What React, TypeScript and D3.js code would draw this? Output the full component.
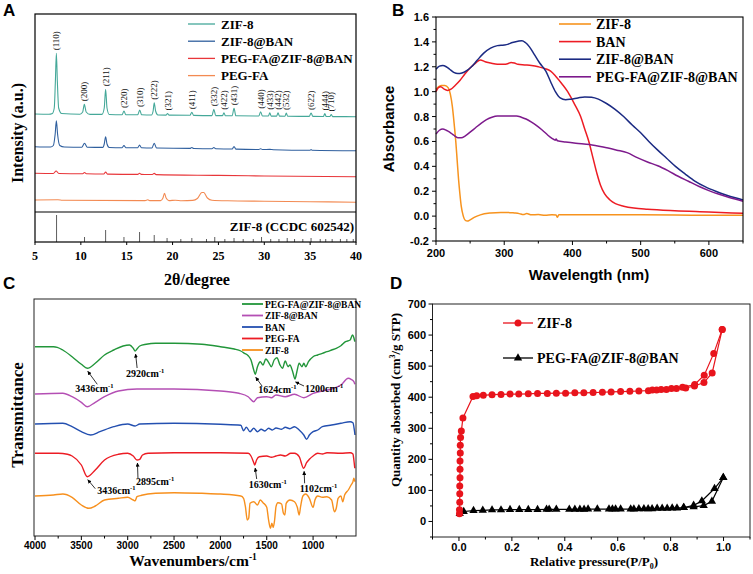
import React from "react";
import * as d3 from "d3";

type P = [number, number];

const SERIF = "'Liberation Serif','Times New Roman',Times,serif";
const SANS = "'Liberation Sans',Arial,Helvetica,sans-serif";

// ================= Panel A : XRD =================
const xrdNames = ["ZIF-8", "ZIF-8@BAN", "PEG-FA@ZIF-8@BAN", "PEG-FA"];
const xrdColors = ["#45a899", "#2f5f9e", "#e8363a", "#f38a52"];
const xrdZif8: P[] = [
  [5, 98], [6.5, 97.8], [6.9, 98.6], [7.1, 104], [7.22, 130], [7.33, 158.7], [7.44, 130], [7.58, 104], [7.9, 98.5],
  [9.9, 97.8], [10.2, 100], [10.38, 107.7], [10.58, 100], [11, 97.6], [12.3, 97.6], [12.55, 104], [12.7, 122.7],
  [12.85, 104], [13.1, 97.5], [14.5, 97.3], [14.7, 101], [14.9, 97.3], [16.2, 97.2], [16.42, 102], [16.62, 97.2],
  [17.7, 97], [17.88, 101], [18.0, 109.3], [18.15, 101], [18.4, 97], [19.3, 96.9], [19.45, 98.5], [19.6, 96.9],
  [21.9, 96.7], [22.1, 99.7], [22.3, 96.6], [24.3, 96.4], [24.5, 102.7], [24.7, 96.4], [25.45, 96.4], [25.6, 99.3],
  [25.75, 96.3], [26.5, 96.3], [26.7, 103.7], [26.9, 96.2], [29.4, 96], [29.6, 100.3], [29.8, 96], [30.45, 96],
  [30.6, 99.3], [30.75, 95.9], [31.35, 95.9], [31.5, 99.3], [31.65, 95.9], [32.25, 95.8], [32.4, 99], [32.55, 95.8],
  [34.9, 95.6], [35.1, 99], [35.3, 95.6], [36.45, 95.5], [36.6, 98.5], [36.75, 95.5], [37.15, 95.5], [37.3, 97.5],
  [37.45, 95.4], [40, 95.3],
];
const xrdZif8Ban: P[] = [
  [5, 65.3], [6.7, 65], [7.0, 66.5], [7.2, 78], [7.33, 91.3], [7.46, 78], [7.7, 66.5], [8.2, 65], [10.1, 64.8],
  [10.4, 68.7], [10.7, 64.8], [12.4, 64.6], [12.55, 68], [12.7, 75.3], [12.85, 68], [13.1, 64.5], [14.5, 64.3],
  [14.7, 66.5], [14.9, 64.3], [16.2, 64.2], [16.4, 67], [16.6, 64.2], [17.75, 64], [18.0, 68.7], [18.25, 64],
  [21.9, 63.6], [22.1, 64.5], [22.3, 63.5], [24.3, 63.3], [24.5, 64.5], [24.7, 63.2], [26.5, 63], [26.7, 65.5],
  [26.9, 62.9], [29.4, 62.5], [29.6, 63.3], [29.8, 62.5], [30.6, 62.6], [31, 62.3], [35.0, 61.8], [35.1, 62.4],
  [35.2, 61.8], [40, 61.3],
];
const xrdPegZifBan: P[] = [
  [5, 38.7], [7.0, 38.5], [7.3, 41], [7.6, 38.5], [10.2, 38.2], [10.4, 39.5], [10.6, 38.2], [12.5, 38], [12.7, 40],
  [12.9, 37.9], [16.2, 37.6], [16.4, 38.8], [16.6, 37.6], [17.8, 37.5], [18.0, 38.6], [18.2, 37.4], [25, 36.6],
  [30, 36], [40, 35.3],
];
const xrdPegFa: P[] = [
  [5, 12], [7.5, 12.2], [8, 11.8], [17, 11.4], [17.3, 12.2], [17.5, 11.4], [18.7, 11.4], [18.95, 14], [19.12, 18.7],
  [19.3, 14], [19.6, 11.4], [20.3, 11.8], [21, 11.3], [22.2, 11.6], [22.7, 13.5], [23.2, 19.5], [23.4, 19.5],
  [23.8, 14], [24.3, 11.8], [26, 11.2], [30, 10.8], [35, 10.3], [40, 9.7],
];
const xrdSeries = [xrdZif8, xrdZif8Ban, xrdPegZifBan, xrdPegFa];
const millerLabels = ["(110)", "(200)", "(211)", "(220)", "(310)", "(222)", "(321)", "(411)", "(332)", "(422)",
  "(431)", "(440)", "(433)", "(442)", "(532)", "(622)", "(444)", "(710)"];
const millerTheta = [7.33, 10.38, 12.7, 14.7, 16.42, 18.0, 19.45, 22.1, 24.5, 25.6, 26.7, 29.6, 30.6, 31.5, 32.4,
  35.1, 36.6, 37.3];
const millerPeak = [158.7, 107.7, 122.7, 101, 102, 109.3, 98.5, 99.7, 102.7, 99.3, 103.7, 100.3, 99.3, 99.3, 99, 99,
  98.5, 97.5];
const refSticks: P[] = [
  [7.35, 27], [10.4, 5], [12.7, 12], [14.7, 5], [16.4, 10], [18.0, 7], [19.4, 4], [20.9, 3], [22.1, 4], [23.7, 3],
  [24.6, 5], [25.7, 3], [26.7, 4], [27.7, 3], [28.8, 3], [29.7, 5], [30.7, 3], [31.6, 3], [32.5, 4], [33.3, 3],
  [34.2, 3], [35.1, 4], [36.1, 3], [36.7, 3], [37.4, 3], [38.3, 3], [39.0, 3], [39.7, 3],
];
const xrdTicks = [5, 10, 15, 20, 25, 30, 35, 40];

// ================= Panel B : UV-vis =================
const uvNames = ["ZIF-8", "BAN", "ZIF-8@BAN", "PEG-FA@ZIF-8@BAN"];
const uvColors = ["#f7931e", "#ed1c24", "#1b2a83", "#7d1a8c"];
const uvZif8: P[] = [
  [200, 1.02], [204, 1.04], [208, 1.05], [213, 1.05], [218, 1.03], [221, 0.98], [224, 0.88], [227, 0.72], [229, 0.6],
  [231, 0.45], [233, 0.3], [235, 0.18], [237, 0.08], [240, 0.0], [243, -0.035], [246, -0.04], [250, -0.03],
  [256, -0.01], [265, 0.01], [280, 0.025], [295, 0.03], [305, 0.03], [315, 0.025], [322, 0.02], [328, 0.012],
  [333, 0.02], [340, 0.01], [350, 0.012], [360, 0.006], [370, 0.01], [376, 0.008], [378, -0.01], [380, 0.01],
  [400, 0.01], [450, 0.01], [500, 0.01], [550, 0.008], [600, 0.007], [650, 0.006],
];
const uvBan: P[] = [
  [200, 1.0], [203, 1.03], [207, 1.04], [212, 1.02], [217, 1.01], [222, 1.02], [228, 1.05], [235, 1.09], [242, 1.14],
  [250, 1.19], [258, 1.23], [265, 1.255], [272, 1.24], [280, 1.23], [290, 1.22], [300, 1.22], [305, 1.225],
  [310, 1.235], [315, 1.23], [320, 1.22], [330, 1.215], [340, 1.21], [350, 1.2], [360, 1.185], [368, 1.165],
  [376, 1.12], [385, 1.06], [393, 1.0], [403, 0.9], [412, 0.8], [418, 0.7], [424, 0.6], [430, 0.47], [436, 0.34],
  [441, 0.25], [447, 0.18], [455, 0.13], [463, 0.1], [475, 0.08], [490, 0.065], [510, 0.055], [550, 0.043],
  [600, 0.033], [650, 0.022],
];
const uvZifBan: P[] = [
  [200, 1.18], [205, 1.205], [210, 1.21], [215, 1.2], [220, 1.18], [226, 1.155], [232, 1.145], [238, 1.15],
  [245, 1.17], [252, 1.2], [260, 1.25], [270, 1.31], [280, 1.35], [290, 1.37], [300, 1.375], [305, 1.38],
  [312, 1.395], [320, 1.405], [326, 1.41], [331, 1.395], [337, 1.36], [344, 1.3], [352, 1.23], [361, 1.165],
  [368, 1.08], [375, 1.0], [382, 0.95], [390, 0.935], [398, 0.94], [408, 0.95], [418, 0.958], [428, 0.955],
  [438, 0.94], [450, 0.905], [462, 0.86], [475, 0.8], [488, 0.73], [500, 0.67], [512, 0.6], [525, 0.53],
  [538, 0.465], [551, 0.4], [565, 0.34], [580, 0.28], [595, 0.235], [610, 0.2], [625, 0.17], [640, 0.145], [650, 0.13],
];
const uvPegZifBan: P[] = [
  [200, 0.66], [205, 0.69], [210, 0.7], [215, 0.69], [220, 0.675], [226, 0.65], [232, 0.63], [237, 0.63],
  [243, 0.645], [250, 0.675], [258, 0.71], [266, 0.745], [274, 0.775], [282, 0.795], [290, 0.805], [300, 0.805],
  [310, 0.805], [318, 0.805], [325, 0.795], [332, 0.78], [340, 0.755], [348, 0.725], [356, 0.69], [364, 0.65],
  [370, 0.625], [375, 0.61], [376, 0.62], [378, 0.605], [390, 0.595], [405, 0.585], [425, 0.575], [445, 0.555],
  [465, 0.53], [480, 0.51], [495, 0.47], [510, 0.435], [525, 0.405], [540, 0.365], [555, 0.32], [570, 0.28],
  [585, 0.24], [600, 0.205], [615, 0.175], [630, 0.15], [650, 0.12],
];
const uvSeries = [uvZif8, uvBan, uvZifBan, uvPegZifBan];
const uvYMajor = [-0.2, 0.0, 0.2, 0.4, 0.6, 0.8, 1.0, 1.2, 1.4, 1.6];
const uvYMinor = [-0.1, 0.1, 0.3, 0.5, 0.7, 0.9, 1.1, 1.3, 1.5];
const uvXMajor = [200, 300, 400, 500, 600];
const uvXMinor = [250, 350, 450, 550, 650];

// ================= Panel C : FTIR =================
const irNames = ["PEG-FA@ZIF-8@BAN", "ZIF-8@BAN", "BAN", "PEG-FA", "ZIF-8"];
const irColors = ["#22963a", "#b44fb4", "#2450b0", "#ec1c24", "#f7901e"];
const irPegZifBan: P[] = [
  [4000, 189.3], [3800, 189.3], [3760, 188.7], [3700, 186], [3600, 179.3], [3500, 171.7], [3436, 167.7],
  [3350, 172.7], [3250, 181], [3150, 186], [3050, 190], [2980, 191], [2940, 187.7], [2920, 185], [2900, 187],
  [2870, 190], [2800, 191.7], [2700, 192.7], [2500, 192.7], [2200, 191.7], [2000, 189.3], [1850, 187], [1780, 185],
  [1740, 182.7], [1700, 180.3], [1670, 176], [1640, 166], [1624, 161.7], [1600, 169.3], [1570, 174.3], [1540, 171],
  [1510, 177], [1480, 173.7], [1450, 169.3], [1420, 176], [1390, 178.3], [1360, 171.7], [1330, 167.7], [1300, 175],
  [1270, 169.3], [1250, 171], [1220, 164.3], [1195, 157], [1175, 164.3], [1150, 172.7], [1120, 169.3],
  [1100, 172.7], [1080, 169.3], [1050, 174.3], [1000, 179.3], [950, 181], [900, 182.7], [850, 184.3], [800, 186],
  [750, 187.7], [700, 190.3], [650, 194.3], [600, 196], [575, 201], [560, 198.3], [550, 194.3],
];
const irZifBan: P[] = [
  [4000, 142], [3700, 142.7], [3600, 139.3], [3500, 133.7], [3436, 129.3], [3350, 133.7], [3250, 139.3],
  [3100, 145], [2900, 147], [2500, 147], [2000, 145], [1800, 142.7], [1700, 139.3], [1640, 134.3], [1600, 138.3],
  [1500, 139.3], [1450, 138.3], [1400, 141], [1300, 139.3], [1200, 141.7], [1100, 138.3], [1000, 142.7], [900, 145],
  [800, 147], [700, 151], [620, 157.7], [590, 156.7], [560, 154.3], [550, 151.7],
];
const irBan: P[] = [
  [4000, 112], [3700, 112.7], [3600, 109.3], [3500, 104.3], [3400, 101], [3300, 104.3], [3150, 109.3], [3000, 112],
  [2920, 110], [2870, 112], [2500, 112.7], [2000, 111.7], [1780, 110.7], [1750, 105.3], [1720, 108.7],
  [1680, 104.3], [1640, 107.7], [1600, 104.3], [1560, 106.7], [1520, 105], [1480, 107.7], [1440, 106], [1400, 108],
  [1340, 106.7], [1300, 108.7], [1250, 107.3], [1200, 109.3], [1150, 106], [1100, 101], [1070, 96.7], [1040, 101],
  [1000, 104.3], [950, 106], [900, 109.3], [800, 111], [700, 112.7], [600, 114.3], [570, 113.3], [555, 106],
  [548, 101],
];
const irPegFa: P[] = [
  [4000, 82.7], [3750, 82.7], [3650, 81.7], [3600, 80], [3500, 71], [3436, 59.3], [3350, 66], [3250, 76],
  [3100, 81.7], [3000, 82.7], [2940, 80], [2900, 76], [2870, 76.7], [2840, 81], [2780, 82.7], [2500, 83.3],
  [2000, 83.3], [1700, 82.7], [1670, 80], [1640, 73.3], [1630, 71], [1610, 76], [1580, 79.3], [1500, 80],
  [1450, 78.7], [1400, 80], [1350, 81], [1300, 80], [1240, 82.7], [1200, 82.7], [1150, 79.3], [1102, 67.7],
  [1070, 73.3], [1040, 76.7], [1000, 80], [950, 82.7], [900, 82], [850, 83.3], [700, 82.7], [600, 83.3], [570, 82],
  [560, 76], [550, 67.7],
];
const irZif8: P[] = [
  [4000, 40], [3800, 41], [3700, 42], [3600, 38.7], [3500, 31], [3420, 27.7], [3350, 30], [3250, 36], [3100, 37.7],
  [3000, 38.7], [2940, 36], [2920, 35.3], [2900, 39.3], [2850, 40.7], [2700, 42.7], [2500, 43.3], [2200, 42.7],
  [2000, 42], [1780, 40], [1750, 37.7], [1730, 29.3], [1710, 16], [1695, 17.7], [1680, 32.7], [1640, 34.3],
  [1600, 31], [1570, 36], [1540, 33.3], [1500, 28.7], [1480, 16], [1460, 7.7], [1445, 12.7], [1430, 8.7],
  [1415, 16], [1400, 29.3], [1380, 33.3], [1340, 32], [1320, 22.7], [1305, 21], [1290, 32.7], [1250, 36],
  [1200, 34.3], [1170, 28.7], [1150, 21], [1135, 29.3], [1110, 40], [1080, 42], [1040, 37.7], [1000, 28.7],
  [980, 36], [950, 40], [900, 38.7], [850, 39.3], [800, 36], [770, 24.3], [750, 27.7], [730, 37.7], [700, 40],
  [680, 34.3], [660, 41], [620, 46], [590, 51], [570, 54.3], [560, 57.7], [550, 54.3],
];
const irSeries = [irPegZifBan, irZifBan, irBan, irPegFa, irZif8];
// label, series index, wavenumber of the dip
const irNotes: [string, number, number][] = [
  ["3436", 0, 3436], ["2920", 0, 2920], ["1624", 0, 1624], ["1200", 0, 1195],
  ["3436", 3, 3436], ["2895", 3, 2900], ["1630", 3, 1630], ["1102", 3, 1102],
];
const irNoteOffsets: [number, number, number, number][] = [
  // arrow tail dx, dy ; text dx, dy (relative to dip)
  [10, 14, -12, 22], [2, 15, -9, 24], [7, 10, 3, 17], [9, 5, 10, 11],
  [8, 10, 10, 15], [1, 16, -1, 23], [2, 12, -6, 21], [1, 13, -4, 22],
];
const irMajor = [4000, 3500, 3000, 2500, 2000, 1500, 1000];
const irMinor = [3750, 3250, 2750, 2250, 1750, 1250, 750];

// ================= Panel D : N2 isotherms =================
const betNames = ["ZIF-8", "PEG-FA@ZIF-8@BAN"];
const zifAdsP = [0.002, 0.002, 0.003, 0.003, 0.003, 0.004, 0.004, 0.004, 0.005, 0.005, 0.006, 0.009, 0.015, 0.053,
  0.067, 0.092, 0.125, 0.159, 0.193, 0.226, 0.262, 0.297, 0.334, 0.368, 0.403, 0.438, 0.472, 0.507, 0.542, 0.575,
  0.611, 0.646, 0.68, 0.716, 0.747, 0.784, 0.822, 0.857, 0.89, 0.926, 0.957, 0.995];
const zifAdsQ = [25, 38, 62, 89, 114, 141, 168, 195, 220, 245, 270, 291, 333, 402, 405, 406, 408, 409, 410, 410, 411,
  412, 412, 413, 413, 414, 414, 415, 416, 417, 418, 419, 420, 421, 423, 425, 428, 430, 436, 447, 478, 618];
const zifDesP = [0.995, 0.963, 0.927, 0.891, 0.845, 0.803, 0.764, 0.731];
const zifDesQ = [618, 541, 471, 441, 432, 428, 425, 423];
const pegAdsP = [0.003, 0.018, 0.055, 0.09, 0.125, 0.159, 0.193, 0.228, 0.262, 0.297, 0.331, 0.341, 0.368, 0.417,
  0.438, 0.457, 0.473, 0.488, 0.523, 0.567, 0.58, 0.592, 0.611, 0.649, 0.661, 0.68, 0.699, 0.715, 0.73, 0.749,
  0.768, 0.787, 0.806, 0.824, 0.849, 0.887, 0.925, 0.956, 0.999];
const pegAdsQ = [25, 32, 35, 36, 37, 37, 38, 38, 38, 38, 39, 39, 39, 39, 39, 39, 39, 40, 40, 40, 40, 40, 40, 40, 40,
  41, 41, 41, 41, 42, 42, 42, 43, 43, 45, 47, 51, 65, 141];
const pegDesP = [0.999, 0.966, 0.918, 0.887, 0.85];
const pegDesQ = [141, 106, 66, 52, 45];
const betXMajor = [0, 0.2, 0.4, 0.6, 0.8, 1.0];
const betXMinor = [-0.1, 0.1, 0.3, 0.5, 0.7, 0.9, 1.1];
const betYMajor = [0, 100, 200, 300, 400, 500, 600, 700];
const betYMinor = [-50, 50, 150, 250, 350, 450, 550, 650];

const zip = (a: number[], b: number[]): P[] => a.map((v, i) => [v, b[i]]);

function PanelA() {
  const x = d3.scaleLinear().domain([5, 40]).range([35, 356]);
  const y = d3.scaleLinear().domain([0, 198]).range([212, 14]);
  const ys = d3.scaleLinear().domain([0, 30]).range([242, 212]);
  const line = d3.line<P>().x((d) => x(d[0])).y((d) => y(d[1])).curve(d3.curveMonotoneX);
  return (
    <g>
      <text x={3} y={16} fontFamily={SANS} fontWeight="bold" fontSize={17}>A</text>
      {xrdSeries.map((s, i) => (
        <path key={i} d={line(s) || ""} fill="none" stroke={xrdColors[i]} strokeWidth={1.1} />
      ))}
      {millerLabels.map((m, i) => (
        <text key={m} transform={`translate(${x(millerTheta[i]) + 3},${y(millerPeak[i]) - 3}) rotate(-90)`}
          fontFamily={SERIF} fontSize={9} fill="#111">{m}</text>
      ))}
      {refSticks.map((s, i) => (
        <line key={i} x1={x(s[0])} x2={x(s[0])} y1={ys(0)} y2={ys(s[1])} stroke="#333" strokeWidth={0.8} />
      ))}
      <line x1={35} x2={356} y1={y(0)} y2={y(0)} stroke="#000" strokeWidth={1.2} />
      <rect x={35} y={14} width={321} height={228} fill="none" stroke="#000" strokeWidth={1.2} />
      <text x={354} y={231} textAnchor="end" fontFamily={SERIF} fontWeight="bold" fontSize={13}>ZIF-8 (CCDC 602542)</text>
      {xrdTicks.map((t) => (
        <g key={t}>
          <line x1={x(t)} x2={x(t)} y1={242} y2={245} stroke="#000" />
          <text x={x(t)} y={260} textAnchor="middle" fontFamily={SERIF} fontWeight="bold" fontSize={12}>{t}</text>
        </g>
      ))}
      <text x={197} y={285} textAnchor="middle" fontFamily={SERIF} fontWeight="bold" fontSize={16}>2θ/degree</text>
      <text transform="translate(23,133) rotate(-90)" textAnchor="middle" fontFamily={SERIF} fontWeight="bold" fontSize={16}>Intensity (a.u.)</text>
      {xrdNames.map((n, i) => (
        <g key={n}>
          <line x1={188} x2={215} y1={24 + i * 17.2} y2={24 + i * 17.2} stroke={xrdColors[i]} strokeWidth={1.3} />
          <text x={221} y={24 + i * 17.2 + 4.5} fontFamily={SERIF} fontWeight="bold" fontSize={13}>{n}</text>
        </g>
      ))}
    </g>
  );
}

function PanelB() {
  const x = d3.scaleLinear().domain([200, 650]).range([436, 743]);
  const y = d3.scaleLinear().domain([-0.2, 1.6]).range([241, 17]);
  const line = d3.line<P>().x((d) => x(d[0])).y((d) => y(d[1])).curve(d3.curveMonotoneX);
  return (
    <g>
      <text x={392} y={16} fontFamily={SANS} fontWeight="bold" fontSize={17}>B</text>
      {uvSeries.map((s, i) => (
        <path key={i} d={line(s) || ""} fill="none" stroke={uvColors[i]} strokeWidth={1.5} />
      ))}
      <rect x={436} y={17} width={307} height={224} fill="none" stroke="#000" strokeWidth={1.1} />
      {uvYMajor.map((t) => (
        <g key={t}>
          <line x1={432} x2={436} y1={y(t)} y2={y(t)} stroke="#000" />
          <text x={429} y={y(t) + 4} textAnchor="end" fontFamily={SANS} fontWeight="bold" fontSize={11}>{t.toFixed(1)}</text>
        </g>
      ))}
      {uvYMinor.map((t) => (
        <line key={t} x1={433.5} x2={436} y1={y(t)} y2={y(t)} stroke="#000" />
      ))}
      {uvXMajor.map((t) => (
        <g key={t}>
          <line x1={x(t)} x2={x(t)} y1={241} y2={245} stroke="#000" />
          <text x={x(t)} y={257} textAnchor="middle" fontFamily={SANS} fontWeight="bold" fontSize={11}>{t}</text>
        </g>
      ))}
      {uvXMinor.map((t) => (
        <line key={t} x1={x(t)} x2={x(t)} y1={241} y2={243.5} stroke="#000" />
      ))}
      <text x={589} y={280} textAnchor="middle" fontFamily={SANS} fontWeight="bold" fontSize={15}>Wavelength (nm)</text>
      <text transform="translate(394,129) rotate(-90)" textAnchor="middle" fontFamily={SANS} fontWeight="bold" fontSize={15}>Absorbance</text>
      {uvNames.map((n, i) => (
        <g key={n}>
          <line x1={559} x2={591} y1={24 + i * 17.6} y2={24 + i * 17.6} stroke={uvColors[i]} strokeWidth={1.6} />
          <text x={596} y={24 + i * 17.6 + 5} fontFamily={SERIF} fontWeight="bold" fontSize={14}>{n}</text>
        </g>
      ))}
    </g>
  );
}

function PanelC() {
  const x = d3.scaleLinear().domain([4000, 537]).range([35, 356]);
  const y = d3.scaleLinear().domain([0, 237]).range([536, 299]);
  const line = d3.line<P>().x((d) => x(d[0])).y((d) => y(d[1])).curve(d3.curveMonotoneX);
  const valAt = (s: P[], wn: number) => {
    const f = s.find((d) => d[0] === wn);
    return f ? f[1] : 0;
  };
  return (
    <g>
      <defs>
        <marker id="arr" viewBox="0 0 6 6" refX={5.5} refY={3} markerWidth={5} markerHeight={5} orient="auto">
          <path d="M0,0 L6,3 L0,6 z" fill="#000" />
        </marker>
      </defs>
      <text x={3} y={289} fontFamily={SANS} fontWeight="bold" fontSize={17}>C</text>
      {irSeries.map((s, i) => (
        <path key={i} d={line(s) || ""} fill="none" stroke={irColors[i]} strokeWidth={1.4} />
      ))}
      <rect x={34} y={299} width={322} height={237} fill="none" stroke="#222" strokeWidth={1} />
      {irNotes.map((n, i) => {
        const px = x(n[2]);
        const py = y(valAt(irSeries[n[1]], n[2])) + 2;
        const o = irNoteOffsets[i];
        return (
          <g key={i}>
            <line x1={px + o[0]} y1={py + o[1]} x2={px + 0.5} y2={py + 1} stroke="#000" strokeWidth={0.8} markerEnd="url(#arr)" />
            <text x={px + o[2]} y={py + o[3]} fontFamily={SERIF} fontWeight="bold" fontSize={10}>
              {n[0]}cm<tspan dy={-4} fontSize={6.5}>-1</tspan>
            </text>
          </g>
        );
      })}
      {irMajor.map((t) => (
        <g key={t}>
          <line x1={x(t)} x2={x(t)} y1={536} y2={540} stroke="#000" />
          <text x={x(t)} y={549} textAnchor="middle" fontFamily={SANS} fontWeight="bold" fontSize={10}>{t}</text>
        </g>
      ))}
      {irMinor.map((t) => (
        <line key={t} x1={x(t)} x2={x(t)} y1={536} y2={538.5} stroke="#000" />
      ))}
      <text x={193} y={566} textAnchor="middle" fontFamily={SERIF} fontWeight="bold" fontSize={15.5}>
        Wavenumbers/cm<tspan dy={-6} fontSize={9.5}>-1</tspan>
      </text>
      <text transform="translate(23,415) rotate(-90)" textAnchor="middle" fontFamily={SERIF} fontWeight="bold" fontSize={17}>Transmittance</text>
      {irNames.map((n, i) => (
        <g key={n}>
          <line x1={242} x2={263} y1={304 + i * 11.5} y2={304 + i * 11.5} stroke={irColors[i]} strokeWidth={1.8} />
          <text x={265} y={304 + i * 11.5 + 3.5} fontFamily={SERIF} fontWeight="bold" fontSize={9.5}>{n}</text>
        </g>
      ))}
    </g>
  );
}

function PanelD() {
  const x = d3.scaleLinear().domain([-0.1, 1.1]).range([432.5, 750]);
  const y = d3.scaleLinear().domain([-50, 700]).range([537, 304]);
  const line = d3.line<P>().x((d) => x(d[0])).y((d) => y(d[1]));
  const tri = d3.symbol().type(d3.symbolTriangle).size(30);
  const zA = zip(zifAdsP, zifAdsQ), zD = zip(zifDesP, zifDesQ);
  const pA = zip(pegAdsP, pegAdsQ), pD = zip(pegDesP, pegDesQ);
  return (
    <g>
      <text x={390} y={289} fontFamily={SANS} fontWeight="bold" fontSize={17}>D</text>
      {[pA, pD].map((s, i) => (
        <g key={"p" + i}>
          <path d={line(s) || ""} fill="none" stroke="#000" strokeWidth={1.2} />
          {s.map((d, j) => (
            <path key={j} d={tri() || ""} transform={`translate(${x(d[0])},${y(d[1])})`} fill="#000" />
          ))}
        </g>
      ))}
      {[zA, zD].map((s, i) => (
        <g key={"z" + i}>
          <path d={line(s) || ""} fill="none" stroke="#e8141c" strokeWidth={1.2} />
          {s.map((d, j) => (
            <circle key={j} cx={x(d[0])} cy={y(d[1])} r={3.5} fill="#e8141c" />
          ))}
        </g>
      ))}
      <rect x={432.5} y={304} width={317.5} height={233} fill="none" stroke="#222" strokeWidth={1} />
      {betYMajor.map((t) => (
        <g key={t}>
          <line x1={428.5} x2={432.5} y1={y(t)} y2={y(t)} stroke="#000" />
          <text x={426} y={y(t) + 4} textAnchor="end" fontFamily={SANS} fontWeight="bold" fontSize={11}>{t}</text>
        </g>
      ))}
      {betYMinor.map((t) => (
        <line key={t} x1={430} x2={432.5} y1={y(t)} y2={y(t)} stroke="#000" />
      ))}
      {betXMajor.map((t) => (
        <g key={t}>
          <line x1={x(t)} x2={x(t)} y1={537} y2={541} stroke="#000" />
          <text x={x(t)} y={551} textAnchor="middle" fontFamily={SANS} fontWeight="bold" fontSize={11}>{t.toFixed(1)}</text>
        </g>
      ))}
      {betXMinor.map((t) => (
        <line key={t} x1={x(t)} x2={x(t)} y1={537} y2={539.5} stroke="#000" />
      ))}
      <text x={594} y={566} textAnchor="middle" fontFamily={SERIF} fontWeight="bold" fontSize={13}>
        Relative pressure(P/P<tspan dy={3} fontSize={8}>0</tspan><tspan dy={-3}>)</tspan>
      </text>
      <text transform="translate(400,400) rotate(-90)" textAnchor="middle" fontFamily={SERIF} fontWeight="bold" fontSize={13}>
        Quantity absorbed (cm<tspan dy={-5} fontSize={8}>3</tspan><tspan dy={5}>/g STP)</tspan>
      </text>
      <line x1={503} x2={533} y1={323} y2={323} stroke="#e8141c" strokeWidth={1.3} />
      <circle cx={518} cy={323} r={3.5} fill="#e8141c" />
      <text x={537} y={328} fontFamily={SERIF} fontWeight="bold" fontSize={14}>{betNames[0]}</text>
      <line x1={503} x2={533} y1={358} y2={358} stroke="#000" strokeWidth={1.3} />
      <path d={tri() || ""} transform="translate(518,358)" fill="#000" />
      <text x={537} y={363} fontFamily={SERIF} fontWeight="bold" fontSize={14}>{betNames[1]}</text>
    </g>
  );
}

export default function App() {
  return (
    <svg width={753} height={574} viewBox="0 0 753 574" xmlns="http://www.w3.org/2000/svg"
      style={{ position: "absolute", left: 0, top: 0, background: "#fff" }}>
      <rect width={753} height={574} fill="#fff" />
      <PanelA />
      <PanelB />
      <PanelC />
      <PanelD />
    </svg>
  );
}
